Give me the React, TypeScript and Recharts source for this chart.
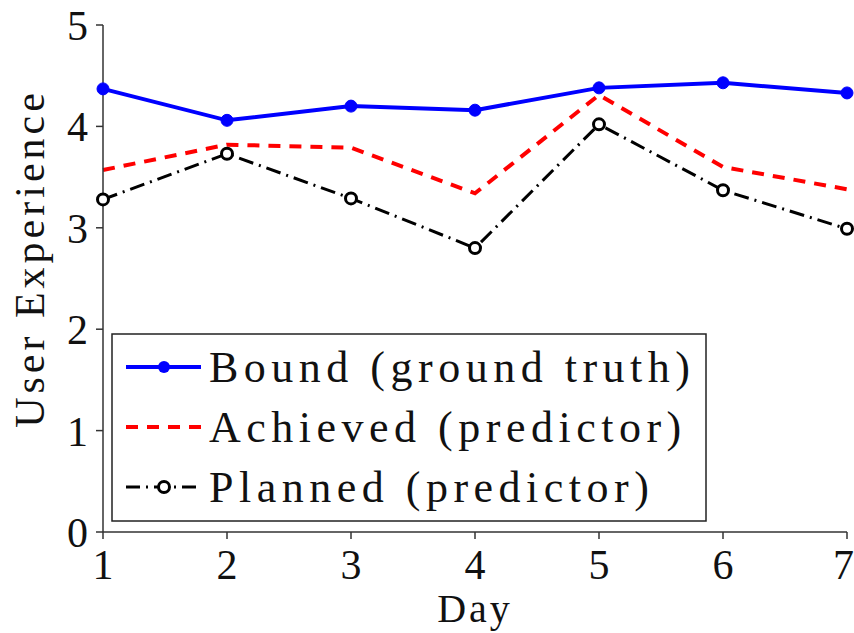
import React from 'react';
import { LineChart, Line, XAxis, YAxis } from 'recharts';

const days = [1, 2, 3, 4, 5, 6, 7];
const bound = [4.37, 4.06, 4.2, 4.16, 4.38, 4.43, 4.33];
const achieved = [3.57, 3.82, 3.79, 3.34, 4.31, 3.6, 3.38];
const planned = [3.28, 3.73, 3.29, 2.8, 4.02, 3.37, 2.99];
const xTicks = [1, 2, 3, 4, 5, 6, 7];
const yTicks = [0, 1, 2, 3, 4, 5];

const data = days.map((d, i) => ({ day: d, bound: bound[i], achieved: achieved[i], planned: planned[i] }));

const FONT = 'Liberation Serif, Times New Roman, DejaVu Serif, serif';

const NoTick = () => <g />;

const LegendBox = () => {
  const rows = [
    { label: 'Bound (ground truth)', color: '#0000ff', dash: undefined, dot: 'filled' },
    { label: 'Achieved (predictor)', color: '#ff0000', dash: '12 9', dot: 'none' },
    { label: 'Planned (predictor)', color: '#000000', dash: '14 6 2 6', dot: 'open' },
  ];
  return (
    <svg width={596} height={189} style={{ display: 'block' }}>
      <rect x={1} y={1} width={594} height={187} fill="#fff" stroke="#222" strokeWidth={1.5} />
      {rows.map((r, i) => {
        const cy = 34 + i * 60;
        return (
          <g key={r.label}>
            <line x1={15} x2={90} y1={cy} y2={cy} stroke={r.color} strokeWidth={r.dot === 'open' ? 3 : 4} strokeDasharray={r.dash} />
            {r.dot === 'filled' && <circle cx={53} cy={cy} r={6} fill={r.color} />}
            {r.dot === 'open' && <circle cx={53} cy={cy} r={5.5} fill="#fff" stroke={r.color} strokeWidth={3} />}
            <text x={98} y={cy + 15} fontFamily={FONT} fontSize={44} letterSpacing={5.5} fill="#111">
              {r.label}
            </text>
          </g>
        );
      })}
    </svg>
  );
};

export default function App() {
  const tickStyle = { fontFamily: FONT, fontSize: 42, fill: '#111' };
  return (
    <div style={{ position: 'absolute', left: 0, top: 0, width: 854, height: 633, background: '#fff' }}>
      <LineChart width={854} height={633} data={data} margin={{ top: 25, right: 7, bottom: 41, left: 43 }}>
        <XAxis
          xAxisId="bottom"
          dataKey="day"
          type="number"
          domain={[1, 7]}
          ticks={xTicks}
          height={60}
          tickSize={7}
          stroke="#333"
          strokeWidth={1.5}
          tick={tickStyle}
          tickMargin={10}
          label={{ value: 'Day', position: 'insideBottom', offset: -30, style: { fontFamily: FONT, fontSize: 40, fill: '#111', letterSpacing: 3 } }}
        />
        <XAxis xAxisId="top" orientation="top" dataKey="day" type="number" domain={[1, 7]} ticks={xTicks} height={0} tickSize={7} stroke="#333" strokeWidth={1.5} tick={NoTick} />
        <YAxis
          yAxisId="left"
          type="number"
          domain={[0, 5]}
          ticks={yTicks}
          width={60}
          tickSize={7}
          stroke="#333"
          strokeWidth={1.5}
          tick={tickStyle}
          tickMargin={8}
          label={{ value: 'User Experience', angle: -90, position: 'center', dx: -44, dy: -20, style: { fontFamily: FONT, fontSize: 42, fill: '#111', letterSpacing: 4, textAnchor: 'middle' } }}
        />
        <YAxis yAxisId="right" orientation="right" type="number" domain={[0, 5]} ticks={yTicks} width={0} tickSize={7} stroke="#333" strokeWidth={1.5} tick={NoTick} />
        <Line xAxisId="bottom" yAxisId="left" dataKey="bound" stroke="#0000ff" strokeWidth={4} dot={{ r: 6, fill: '#0000ff', stroke: '#0000ff', strokeWidth: 1 }} isAnimationActive={false} />
        <Line xAxisId="bottom" yAxisId="left" dataKey="achieved" stroke="#ff0000" strokeWidth={4} strokeDasharray="12 9" dot={false} isAnimationActive={false} />
        <Line xAxisId="bottom" yAxisId="left" dataKey="planned" stroke="#000" strokeWidth={3} strokeDasharray="15 6 2 6" dot={{ r: 5.5, fill: '#fff', stroke: '#000', strokeWidth: 3, strokeDasharray: '' }} isAnimationActive={false} />
      </LineChart>
      <div style={{ position: 'absolute', left: 111, top: 333 }}>
        <LegendBox />
      </div>
    </div>
  );
}
